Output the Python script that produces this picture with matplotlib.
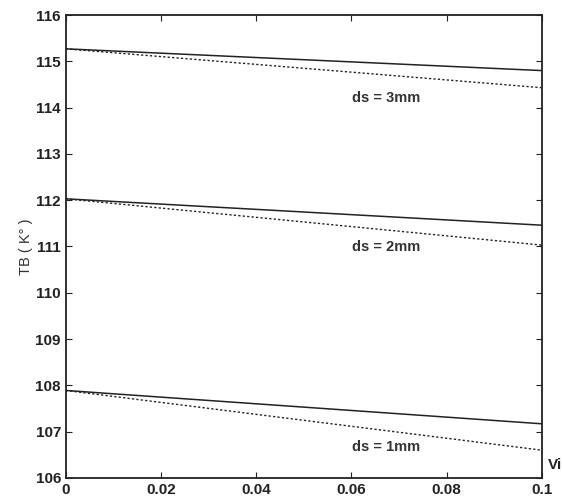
import matplotlib.pyplot as plt

# --- dados ---
vi = [0.0, 0.1]
tb_1mm_solido = [107.89, 107.17]
tb_1mm_ponto = [107.89, 106.60]
tb_2mm_solido = [112.03, 111.46]
tb_2mm_ponto = [112.03, 111.03]
tb_3mm_solido = [115.27, 114.80]
tb_3mm_ponto = [115.27, 114.43]

rotulos = ["ds = 1mm", "ds = 2mm", "ds = 3mm"]
pos_rotulos_x = [0.0672, 0.0672, 0.0672]
pos_rotulos_y = [106.67, 110.99, 114.21]

plt.rcParams['font.family'] = ['Liberation Sans', 'DejaVu Sans']

fig = plt.figure(figsize=(5.62, 5.01), dpi=100)
ax = fig.add_axes([0.117, 0.046, 0.847, 0.924])

for solido, ponto in [(tb_1mm_solido, tb_1mm_ponto),
                      (tb_2mm_solido, tb_2mm_ponto),
                      (tb_3mm_solido, tb_3mm_ponto)]:
    ax.plot(vi, solido, '-', color='#222222', lw=1.1)
    ax.plot(vi, ponto, '--', dashes=(1.6, 1.6), color='#222222', lw=1.0)

for txt, x, y in zip(rotulos, pos_rotulos_x, pos_rotulos_y):
    ax.text(x, y, txt, ha='center', va='center', fontsize=10.5,
            fontweight='bold', color='#333333')

ax.set_xlim(0, 0.1)
ax.set_ylim(106, 116)
ax.set_xticks([0, 0.02, 0.04, 0.06, 0.08, 0.1])
ax.set_xticklabels(['0', '0.02', '0.04', '0.06', '0.08', '0.1'])
ax.set_yticks(range(106, 117))
ax.tick_params(direction='in', top=True, right=True, length=4,
               labelsize=11, colors='#222222')
for lbl in ax.get_xticklabels() + ax.get_yticklabels():
    lbl.set_fontweight('bold')
for s in ax.spines.values():
    s.set_linewidth(1.3)
    s.set_color('#222222')

ax.set_ylabel("TB ( K° )", fontsize=10.5, color='#333333', labelpad=2)
ax.text(1.012, 0.012, "Vi", transform=ax.transAxes, ha='left', va='bottom',
        fontsize=11, fontweight='bold', color='#222222')

fig.savefig("out.png", dpi=100)
